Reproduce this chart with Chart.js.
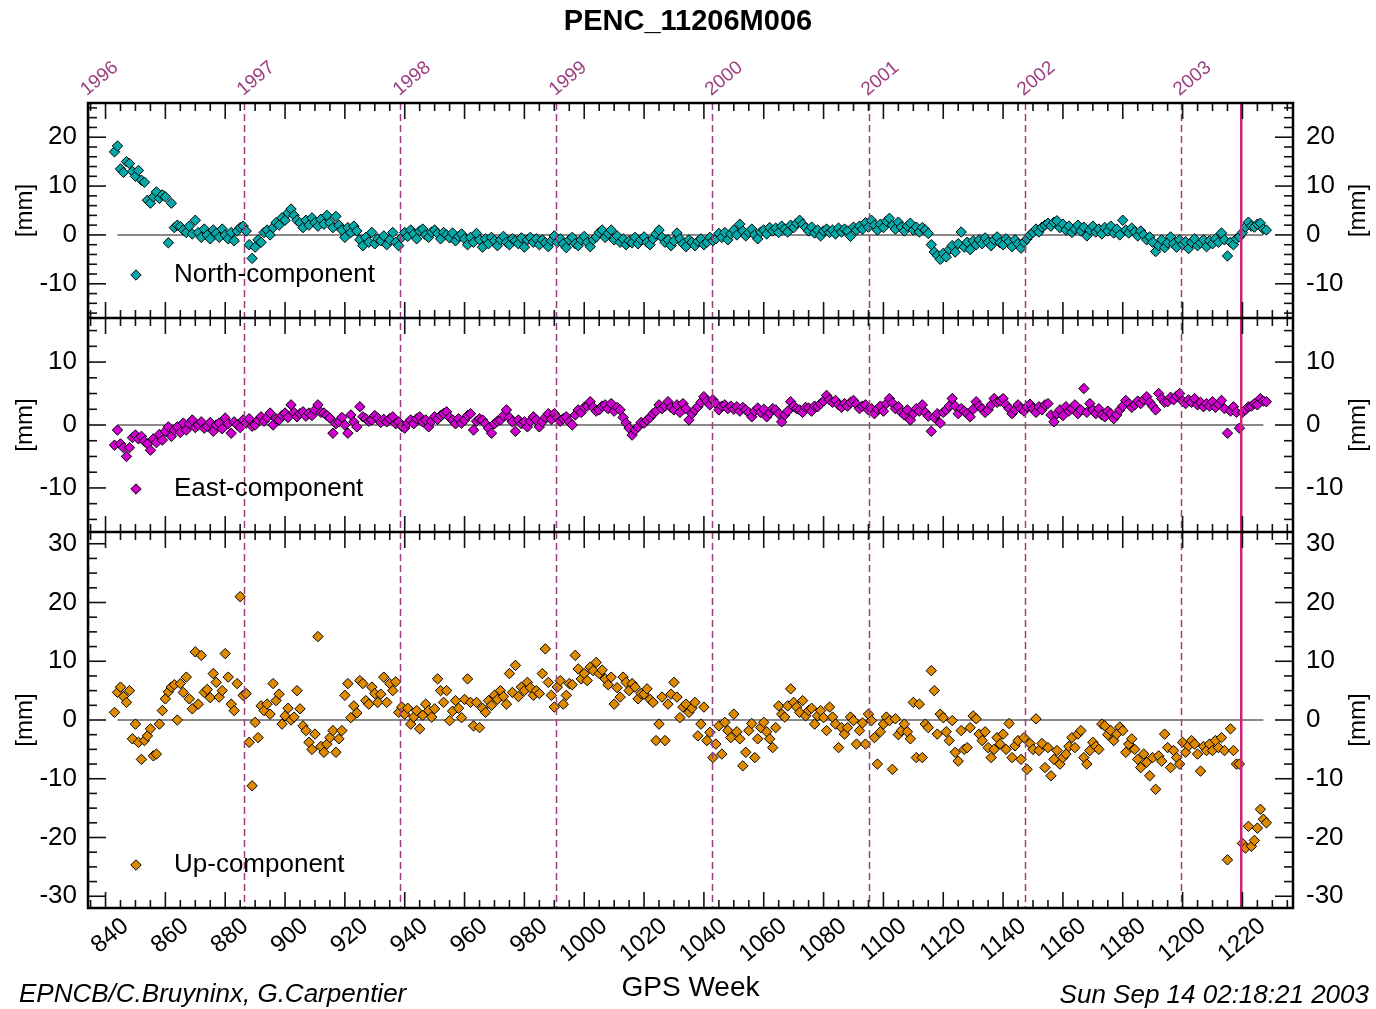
<!DOCTYPE html>
<html>
<head>
<meta charset="utf-8">
<script src="https://cdn.jsdelivr.net/npm/chart.js@4.4.1/dist/chart.umd.min.js"></script>
<style>
html,body{margin:0;padding:0;background:#fff;}
canvas{display:block;}
</style>
</head>
<body>
<canvas id="c" width="1376" height="1009" style="width:1376px;height:1009px"></canvas>
<script>
// ---------------- DATA ----------------
const weeks = [
 843,844,845,846,847,848,849,850,851,852,
 853,854,855,856,857,858,859,860,861,862,
 863,864,865,866,867,868,869,870,871,872,
 873,874,875,876,877,878,879,880,881,882,
 883,884,885,886,887,888,889,890,891,892,
 893,894,895,896,897,898,899,900,901,902,
 903,904,905,906,907,908,909,910,911,912,
 913,914,915,916,917,918,919,920,921,922,
 923,924,925,926,927,928,929,930,931,932,
 933,934,935,936,937,938,939,940,941,942,
 943,944,945,946,947,948,949,950,951,952,
 953,954,955,956,957,958,959,960,961,962,
 963,964,965,966,967,968,969,970,971,972,
 973,974,975,976,977,978,979,980,981,982,
 983,984,985,986,987,988,989,990,991,992,
 993,994,995,996,997,998,999,1000,1001,1002,
 1003,1004,1005,1006,1007,1008,1009,1010,1011,1012,
 1013,1014,1015,1016,1017,1018,1019,1020,1021,1022,
 1023,1024,1025,1026,1027,1028,1029,1030,1031,1032,
 1033,1034,1035,1036,1037,1038,1039,1040,1041,1042,
 1043,1044,1045,1046,1047,1048,1049,1050,1051,1052,
 1053,1054,1055,1056,1057,1058,1059,1060,1061,1062,
 1063,1064,1065,1066,1067,1068,1069,1070,1071,1072,
 1073,1074,1075,1076,1077,1078,1079,1080,1081,1082,
 1083,1084,1085,1086,1087,1088,1089,1090,1091,1092,
 1093,1094,1095,1096,1097,1098,1099,1100,1101,1102,
 1103,1104,1105,1106,1107,1108,1109,1110,1111,1112,
 1113,1114,1115,1116,1117,1118,1119,1120,1121,1122,
 1123,1124,1125,1126,1127,1128,1129,1130,1131,1132,
 1133,1134,1135,1136,1137,1138,1139,1140,1141,1142,
 1143,1144,1145,1146,1147,1148,1149,1150,1151,1152,
 1153,1154,1155,1156,1157,1158,1159,1160,1161,1162,
 1163,1164,1165,1166,1167,1168,1169,1170,1171,1172,
 1173,1174,1175,1176,1177,1178,1179,1180,1181,1182,
 1183,1184,1185,1186,1187,1188,1189,1190,1191,1192,
 1193,1194,1195,1196,1197,1198,1199,1200,1201,1202,
 1203,1204,1205,1206,1207,1208,1209,1210,1211,1212,
 1213,1214,1215,1216,1217,1218,1219,1220,1221,1222,
 1223,1224,1225,1226,1227,1228
];

const northValues = [
 17.0,18.2,13.5,12.8,15.0,14.6,13.0,12.0,13.2,11.2,
 10.8,7.1,6.5,7.8,8.8,7.5,8.2,7.8,-1.6,6.5,
 1.5,2.0,1.7,1.0,0.5,1.8,0.2,3.0,0.5,-0.5,
 1.2,0.0,-0.8,1.0,0.3,-0.5,1.2,0.0,-0.8,0.5,
 -1.2,0.8,1.5,1.8,0.8,-2.0,-4.8,-2.5,-1.0,-1.5,
 0.5,1.0,0.0,1.5,2.5,2.0,3.5,3.0,4.5,5.3,
 4.0,3.0,2.5,1.5,3.0,2.0,3.5,2.5,1.8,3.2,
 2.2,4.0,2.5,1.5,3.8,2.0,1.0,-0.5,1.5,0.5,
 1.8,0.8,-1.0,-2.2,-0.5,-1.5,0.5,-1.8,-0.8,-1.2,
 -0.2,-2.0,-1.0,0.5,-1.5,-2.2,-0.5,0.5,-0.3,1.0,
 0.2,-0.8,0.8,1.2,0.0,-0.5,0.6,1.0,0.3,-0.8,
 0.5,0.0,-0.6,0.4,-1.2,-0.3,0.2,-0.8,-2.0,-0.5,
 -1.5,0.3,-1.0,-2.5,-0.8,-1.8,-0.5,-1.2,-2.2,-1.0,
 -0.3,-1.5,-2.0,-0.8,-1.2,-1.8,-0.6,-2.5,-1.0,-0.5,
 -1.5,-0.8,-2.0,-1.0,-1.6,-2.4,-1.2,-0.2,-1.5,-0.8,
 -1.8,-2.6,-1.0,-0.5,-1.8,-2.2,-1.0,-0.3,-1.5,-2.4,
 -1.0,-0.4,0.5,1.0,-0.5,0.3,1.0,-1.0,-0.2,-1.5,
 -0.8,-2.0,-1.2,-1.6,-0.5,-1.8,-1.0,-0.4,-1.5,-2.0,
 -0.8,0.2,1.0,-0.5,-1.5,-1.0,-2.2,-1.2,0.4,-0.8,
 -1.8,-2.4,-1.0,-1.5,-2.2,-1.3,-0.8,-2.0,-1.5,-0.5,
 -1.2,-0.8,0.3,-0.5,0.5,-1.0,0.2,1.0,0.0,2.2,
 0.8,-0.2,0.5,1.2,0.0,-0.8,0.6,1.0,0.2,1.5,
 0.8,1.4,0.5,1.8,1.2,0.6,2.0,1.5,2.4,3.0,
 2.2,1.5,0.8,1.6,0.4,1.0,-0.2,0.8,1.2,0.5,
 1.0,0.2,1.4,0.6,1.2,0.8,-0.3,1.6,1.0,1.8,
 1.2,2.5,1.6,3.0,2.0,1.0,2.2,1.5,2.8,3.4,
 2.0,1.2,2.6,1.6,0.8,1.8,2.4,1.0,1.6,0.6,
 1.5,1.0,0.3,-2.0,-3.5,-4.2,-5.0,-3.8,-4.5,-3.0,
 -2.2,-3.5,-1.8,0.6,-2.5,-1.5,-3.0,-1.2,-2.0,-1.0,
 -1.8,-0.6,-1.5,-2.2,-1.0,-0.4,-1.6,-2.0,-0.8,-1.4,
 -2.4,-1.0,-1.8,-2.7,-1.5,-0.8,0.0,0.5,1.2,0.6,
 1.6,2.0,2.4,1.8,2.6,2.9,1.5,2.2,1.0,1.8,
 0.5,1.2,2.0,0.8,1.6,-0.2,1.0,1.8,0.6,1.2,
 0.2,1.5,0.8,1.8,0.4,1.2,0.0,3.0,1.0,0.4,
 1.4,0.6,-0.2,0.8,0.0,-1.0,-0.4,-1.5,-3.4,-2.2,
 -1.0,-2.6,-1.6,-0.4,-1.8,-2.5,-1.0,-2.0,-1.4,-2.8,
 -1.5,-0.8,-2.2,-1.6,-1.0,-2.4,-1.2,-1.8,-0.8,-1.5,
 0.4,-1.0,-4.3,-1.5,-2.0,-0.8,-0.4,0.5,1.6,2.6,
 1.8,1.6,2.2,2.4,1.2,1.0
];

const eastValues = [
 -3.2,-0.8,-3.0,-3.6,-5.0,-3.6,-2.0,-1.6,-2.2,-1.8,
 -2.6,-3.0,-4.0,-2.2,-2.8,-1.5,-2.4,-1.0,-0.3,-1.8,
 -0.8,-0.3,-1.2,0.3,-0.8,0.2,0.8,-0.4,0.0,0.5,
 -0.5,-0.2,0.4,-1.0,0.0,0.3,-0.6,1.1,0.2,-1.3,
 0.5,0.0,-0.4,0.8,0.3,1.0,-0.2,0.0,0.8,1.3,
 0.6,1.2,1.9,0.0,1.0,0.8,1.5,1.9,1.2,3.2,
 2.0,1.3,1.8,2.1,1.4,1.9,1.5,2.4,3.2,2.0,
 1.9,1.5,1.1,-1.3,0.2,0.5,1.2,0.0,-1.3,1.6,
 0.5,-0.3,2.9,1.3,1.0,0.6,0.8,1.5,1.1,0.4,
 0.9,0.5,1.0,1.3,0.2,0.5,-0.2,-0.5,0.3,0.8,
 0.2,1.0,1.3,0.5,0.8,-0.3,0.6,1.3,0.9,1.5,
 1.8,2.1,1.2,0.8,0.2,1.0,0.3,0.8,1.5,1.8,
 -0.8,0.6,1.0,0.8,0.2,-0.5,-1.3,0.2,0.6,0.8,
 1.5,2.4,1.2,0.5,-1.0,0.8,0.2,0.5,-0.3,0.6,
 1.3,0.8,-0.3,0.5,1.2,1.8,0.9,1.8,1.2,0.6,
 1.0,1.3,0.5,0.0,1.6,2.4,2.0,2.8,3.0,3.7,
 2.8,2.2,2.4,3.0,3.2,2.6,3.4,2.2,2.8,2.4,
 1.2,0.3,-0.5,-1.6,-0.8,-0.3,0.4,0.3,0.8,1.2,
 1.8,2.2,3.2,2.6,3.0,3.7,2.8,2.4,3.2,2.0,
 3.4,2.6,0.8,1.8,2.4,2.9,3.6,4.5,3.8,3.2,
 4.0,3.4,2.4,3.0,3.2,2.6,3.0,2.5,2.9,2.2,
 2.8,2.4,2.0,1.3,2.2,2.7,2.0,2.5,1.3,1.9,
 2.6,2.4,1.8,0.5,1.6,2.2,3.7,3.0,2.6,2.4,
 2.0,2.8,2.7,2.2,3.0,2.9,3.4,3.8,4.7,4.0,
 3.6,3.9,3.2,2.8,3.4,3.0,3.6,3.9,3.3,2.6,
 3.0,3.2,2.4,2.6,1.8,2.5,3.0,2.2,3.4,4.2,
 3.5,2.6,2.9,2.0,1.6,2.4,0.8,1.8,2.6,2.2,
 3.2,2.0,1.4,-1.0,1.2,1.8,0.3,2.0,2.4,3.0,
 4.2,3.0,1.8,2.6,2.2,1.8,1.3,2.5,3.7,3.0,
 2.6,2.0,2.4,3.2,4.2,3.6,3.8,4.2,3.2,2.6,
 1.8,2.4,3.2,2.6,2.2,2.9,3.3,2.6,2.0,2.9,
 2.4,3.2,3.4,1.6,0.5,1.8,2.4,1.5,2.9,2.2,
 2.6,3.2,1.8,2.4,5.8,2.0,3.4,2.4,1.8,2.6,
 1.6,1.3,2.2,1.8,1.0,1.6,2.4,3.0,3.9,3.4,
 2.8,3.2,3.8,3.4,4.0,4.5,3.6,3.0,2.4,5.0,
 4.2,3.6,3.7,4.4,4.0,4.6,5.0,3.8,3.4,4.0,
 3.6,4.2,3.2,3.6,2.9,3.4,3.0,3.7,2.8,3.3,
 3.9,2.6,-1.3,2.2,2.9,2.0,-0.5,2.0,2.4,2.9,
 3.0,3.4,3.2,4.2,3.8,3.7
];

const upValues = [
 1.3,4.7,5.6,4.0,3.0,5.0,-3.2,-0.7,-3.8,-6.7,
 -3.5,-2.7,-1.5,-6.1,-5.8,-0.7,1.6,3.6,4.8,5.6,
 6.0,0.0,6.2,4.7,7.3,3.6,1.9,11.6,2.7,11.0,
 4.7,5.2,3.8,7.9,6.4,3.9,5.0,11.3,7.3,2.7,
 1.6,6.2,21.0,4.2,4.5,-3.8,-11.2,-0.4,-3.0,2.4,
 1.6,2.7,1.0,6.2,3.3,4.4,-0.7,0.7,2.0,0.0,
 0.5,5.0,1.9,-1.0,-1.8,-3.8,-5.0,-2.4,14.2,-4.5,
 -5.5,-4.1,-3.0,-1.8,-5.5,-3.2,-1.8,4.2,6.2,0.4,
 2.4,1.2,6.7,6.2,3.3,2.7,5.6,4.5,3.0,4.4,
 7.3,3.0,6.2,5.0,6.5,1.3,2.2,1.0,2.0,-0.7,
 0.5,1.6,-1.5,0.8,2.7,1.6,0.5,1.9,7.0,5.0,
 3.0,5.0,-0.1,1.5,3.3,2.0,0.4,3.5,7.0,3.0,
 -1.0,3.0,-1.3,2.0,1.3,3.3,2.5,4.2,3.5,5.0,
 4.0,2.7,7.9,4.7,9.3,4.0,5.6,5.0,6.4,5.5,
 4.2,5.0,4.5,7.9,12.1,6.4,4.2,2.2,5.6,6.7,
 2.7,4.2,6.2,6.0,11.0,8.7,7.0,7.9,6.7,9.0,
 8.4,9.8,7.9,8.5,7.0,6.0,7.3,2.7,5.5,3.9,
 7.3,6.4,5.0,6.2,5.6,3.6,4.5,4.4,5.3,3.5,
 3.0,-3.5,-0.7,3.9,-3.5,2.7,4.4,6.4,3.9,0.4,
 2.2,2.7,1.3,2.0,3.0,-2.7,-0.7,2.2,-3.5,-2.1,
 -6.4,-4.1,-1.0,-5.8,-0.4,-1.8,-3.0,1.0,-2.0,-3.2,
 -7.8,-5.5,-1.8,-0.6,-6.4,-3.2,-1.3,-0.4,-2.0,-3.2,
 -4.7,-1.3,2.4,1.0,0.5,2.4,5.3,3.0,2.2,1.3,
 3.3,0.7,1.6,2.0,-0.7,0.7,1.6,0.4,-1.8,2.2,
 0.5,-0.7,-4.7,-1.3,-2.4,-1.3,0.5,-0.1,-4.1,-1.8,
 -0.5,-4.1,1.0,-0.1,-3.0,-7.5,-2.0,-0.7,0.5,-0.1,
 -8.4,0.2,-2.5,-1.8,-0.7,-2.0,-3.2,3.0,-6.4,2.7,
 -6.4,-0.7,-1.3,8.4,5.0,-2.4,1.0,0.4,-2.0,-3.5,
 -0.1,-5.5,-7.0,-1.8,-5.0,-4.7,-1.3,0.7,0.2,-2.4,
 -3.5,-2.0,-4.7,-6.4,-5.0,-3.0,-4.1,-2.4,-5.0,-0.6,
 -6.4,-4.4,-3.5,-6.7,-3.0,-8.4,-4.0,-5.0,0.2,-5.2,
 -4.0,-8.1,-4.7,-9.5,-6.7,-5.2,-7.5,-6.4,-5.8,-4.5,
 -3.0,-4.7,-2.4,-1.8,-6.4,-7.5,-5.2,-3.8,-4.5,-5.0,
 -0.7,-1.0,-2.5,-1.8,-3.5,-2.4,-1.2,-1.8,-5.5,-4.1,
 -3.2,-5.0,-6.7,-8.1,-5.8,-7.2,-9.5,-6.4,-11.8,-6.1,
 -7.0,-2.4,-4.7,-8.1,-5.2,-6.4,-7.5,-3.8,-5.5,-4.4,
 -3.5,-4.1,-5.8,-8.7,-4.5,-5.2,-4.1,-5.2,-3.5,-4.7,
 -3.0,-5.2,-23.8,-1.5,-5.2,-7.5,-7.5,-21.0,-21.8,-18.1,
 -21.5,-20.5,-18.4,-15.2,-16.9,-17.5
];

const xTickValues = [840,860,880,900,920,940,960,980,1000,1020,1040,1060,1080,1100,1120,1140,1160,1180,1200,1220];
const yearWeeks = [834.14,886.43,938.57,990.71,1042.86,1095.14,1147.29,1199.43];
const yearLabels = ['1996','1997','1998','1999','2000','2001','2002','2003'];
const northTicks = [-10,0,10,20];
const eastTicks = [-10,0,10];
const upTicks = [-30,-20,-10,0,10,20,30];
const eventWeeks = [1219.6];
const zeroSpan = [844,1227];
const seriesNames = ['North-component','East-component','Up-component'];

// ---------------- STYLE ----------------
const FONT = '"Liberation Sans", Arial, Helvetica, sans-serif';
Chart.defaults.font.family = FONT;
Chart.defaults.color = '#000';
const COL_N = '#06a9a9', COL_E = '#d000d0', COL_U = '#e08a00';
const YEAR_COL = '#9b3f80', EVENT_COL = '#cc2277';
const X_MIN = 834.14, X_MAX = 1236.9;
const MARK_R = 5.2;

function yAxis(pos, stack, min, max, ticks, weight) {
  return {
    type: 'linear', position: pos, stack: stack, stackWeight: weight, min: min, max: max,
    afterBuildTicks: s => { s.ticks = ticks.map(v => ({value: v})); },
    afterFit: s => { s.width = pos === 'left' ? 88 : 83; },
    grid: {display: false, drawTicks: false},
    border: {display: false},
    ticks: {font: {size: 26}, color: '#000', padding: pos === 'left' ? 11 : 13, callback: v => String(v)}
  };
}

function pts(vals) { return weeks.map((w, i) => ({x: w, y: vals[i]})); }
function zeroLine(axis) {
  return {label: 'zero', data: zeroSpan.map(w => ({x: w, y: 0})), yAxisID: axis, xAxisID: 'x',
    showLine: true, borderColor: '#8a8a8a', borderWidth: 2, pointRadius: 0, order: 5};
}
function series(label, vals, axis, col) {
  return {label: label, data: pts(vals), xAxisID: 'x', yAxisID: axis, pointStyle: 'rectRot',
    pointRadius: MARK_R, backgroundColor: col, borderColor: '#000', borderWidth: 1, showLine: false, order: 1};
}

const panels = [
  {id: 'yN', minor: 2, ticks: northTicks, col: COL_N, name: seriesNames[0]},
  {id: 'yE', minor: 2.5, ticks: eastTicks, col: COL_E, name: seriesNames[1]},
  {id: 'yU', minor: 2.5, ticks: upTicks, col: COL_U, name: seriesNames[2]}
];

function seg(ctx, x1, y1, x2, y2) { ctx.beginPath(); ctx.moveTo(x1, y1); ctx.lineTo(x2, y2); ctx.stroke(); }

const framePlugin = {
  id: 'frames',
  afterDatasetsDraw(chart) {
    const ctx = chart.ctx, a = chart.chartArea, xs = chart.scales.x;
    ctx.save();
    // year lines
    ctx.strokeStyle = YEAR_COL; ctx.lineWidth = 1.5; ctx.setLineDash([7, 4]);
    yearWeeks.forEach(w => { const px = Math.round(xs.getPixelForValue(w)) + 0.5; seg(ctx, px, a.top, px, a.bottom); });
    ctx.setLineDash([]);
    ctx.strokeStyle = EVENT_COL; ctx.lineWidth = 2.5;
    eventWeeks.forEach(w => { const px = xs.getPixelForValue(w); seg(ctx, px, a.top, px, a.bottom); });
    // ticks
    ctx.strokeStyle = '#111'; ctx.lineWidth = 1.6;
    panels.forEach(p => {
      const ys = chart.scales[p.id];
      const top = ys.top, bot = ys.bottom;
      const n0 = Math.ceil(X_MIN / 5), n1 = Math.floor(X_MAX / 5);
      for (let n = n0; n <= n1; n++) {
        const w = n * 5, px = xs.getPixelForValue(w);
        const len = (w % 20 === 0) ? 16 : 8;
        seg(ctx, px, top, px, top + len);
        seg(ctx, px, bot, px, bot - len);
      }
      const m0 = Math.ceil(ys.min / p.minor - 1e-9), m1 = Math.floor(ys.max / p.minor + 1e-9);
      for (let m = m0; m <= m1; m++) {
        const v = m * p.minor, py = ys.getPixelForValue(v);
        const len = p.ticks.includes(v) ? 18 : 9;
        seg(ctx, a.left, py, a.left + len, py);
        seg(ctx, a.right, py, a.right - len, py);
      }
    });
    // frame
    ctx.strokeStyle = '#000'; ctx.lineWidth = 2.5;
    ctx.strokeRect(a.left, a.top, a.right - a.left, a.bottom - a.top);
    seg(ctx, a.left, chart.scales.yE.top, a.right, chart.scales.yE.top);
    seg(ctx, a.left, chart.scales.yU.top, a.right, chart.scales.yU.top);
    ctx.restore();
  },
  afterDraw(chart) {
    const ctx = chart.ctx, a = chart.chartArea;
    ctx.save();
    panels.forEach(p => {
      const ys = chart.scales[p.id];
      const cy = (ys.top + ys.bottom) / 2;
      // [mm] labels
      ctx.font = '24px ' + FONT; ctx.fillStyle = '#000'; ctx.textAlign = 'center'; ctx.textBaseline = 'middle';
      [25, 1358].forEach(cx => {
        ctx.save(); ctx.translate(cx, cy); ctx.rotate(-Math.PI / 2); ctx.fillText('[mm]', 0, 0); ctx.restore();
      });
      // legend
      const ly = ys.bottom - 43;
      ctx.fillStyle = p.col; ctx.strokeStyle = '#000'; ctx.lineWidth = 1;
      Chart.helpers.drawPoint(ctx, {pointStyle: 'rectRot', radius: MARK_R, borderWidth: 1}, a.left + 48, ly);
      ctx.fillStyle = '#000'; ctx.font = '26px ' + FONT; ctx.textAlign = 'left'; ctx.textBaseline = 'middle';
      ctx.fillText(p.name, 174, ly);
    });
    // footer
    ctx.font = 'italic 26px ' + FONT; ctx.textBaseline = 'alphabetic'; ctx.fillStyle = '#000';
    ctx.textAlign = 'left'; ctx.fillText('EPNCB/C.Bruyninx, G.Carpentier', 19, 1002);
    ctx.textAlign = 'right'; ctx.fillText('Sun Sep 14 02:18:21 2003', 1369, 1003);
    ctx.restore();
  }
};

new Chart(document.getElementById('c'), {
  type: 'scatter',
  data: {
    datasets: [
      series(seriesNames[0], northValues, 'yN', COL_N),
      series(seriesNames[1], eastValues, 'yE', COL_E),
      series(seriesNames[2], upValues, 'yU', COL_U),
      zeroLine('yN'), zeroLine('yE'), zeroLine('yU')
    ]
  },
  options: {
    responsive: false, animation: false, devicePixelRatio: 1, events: [],
    layout: {padding: 0},
    plugins: {
      legend: {display: false}, tooltip: {enabled: false},
      title: {display: true, text: 'PENC_11206M006', color: '#000',
        font: {size: 29, weight: 'bold'}, padding: {top: 5, bottom: 6}}
    },
    scales: {
      x: {
        type: 'linear', position: 'bottom', min: X_MIN, max: X_MAX,
        afterBuildTicks: s => { s.ticks = xTickValues.map(v => ({value: v})); },
        afterFit: s => { s.height = 101; },
        grid: {display: false, drawTicks: false}, border: {display: false},
        ticks: {font: {size: 24}, color: '#000', minRotation: 40, maxRotation: 40, autoSkip: false, padding: 4,
          labelOffset: 20, callback: v => String(v)},
        title: {display: true, text: 'GPS Week', font: {size: 28}, color: '#000', padding: {top: 0, bottom: 4}}
      },
      x2: {
        type: 'linear', position: 'top', min: X_MIN, max: X_MAX,
        afterBuildTicks: s => { s.ticks = yearWeeks.map(v => ({value: v})); },
        afterFit: s => { s.height = 57.2; },
        grid: {display: false, drawTicks: false}, border: {display: false},
        ticks: {font: {size: 19}, color: YEAR_COL, minRotation: 40, maxRotation: 40, autoSkip: false, padding: 2,
          labelOffset: 10, callback: (v, i) => yearLabels[i]}
      },
      // left-hand stack is laid out bottom-first, so it is listed bottom-up
      yU: yAxis('left', 'L', -32, 32, upTicks, 376),
      yE: yAxis('left', 'L', -17, 17, eastTicks, 214),
      yN: yAxis('left', 'L', -17, 27, northTicks, 215),
      yN2: yAxis('right', 'R', -17, 27, northTicks, 215),
      yE2: yAxis('right', 'R', -17, 17, eastTicks, 214),
      yU2: yAxis('right', 'R', -32, 32, upTicks, 376)
    }
  },
  plugins: [framePlugin]
});
</script>
</body>
</html>
